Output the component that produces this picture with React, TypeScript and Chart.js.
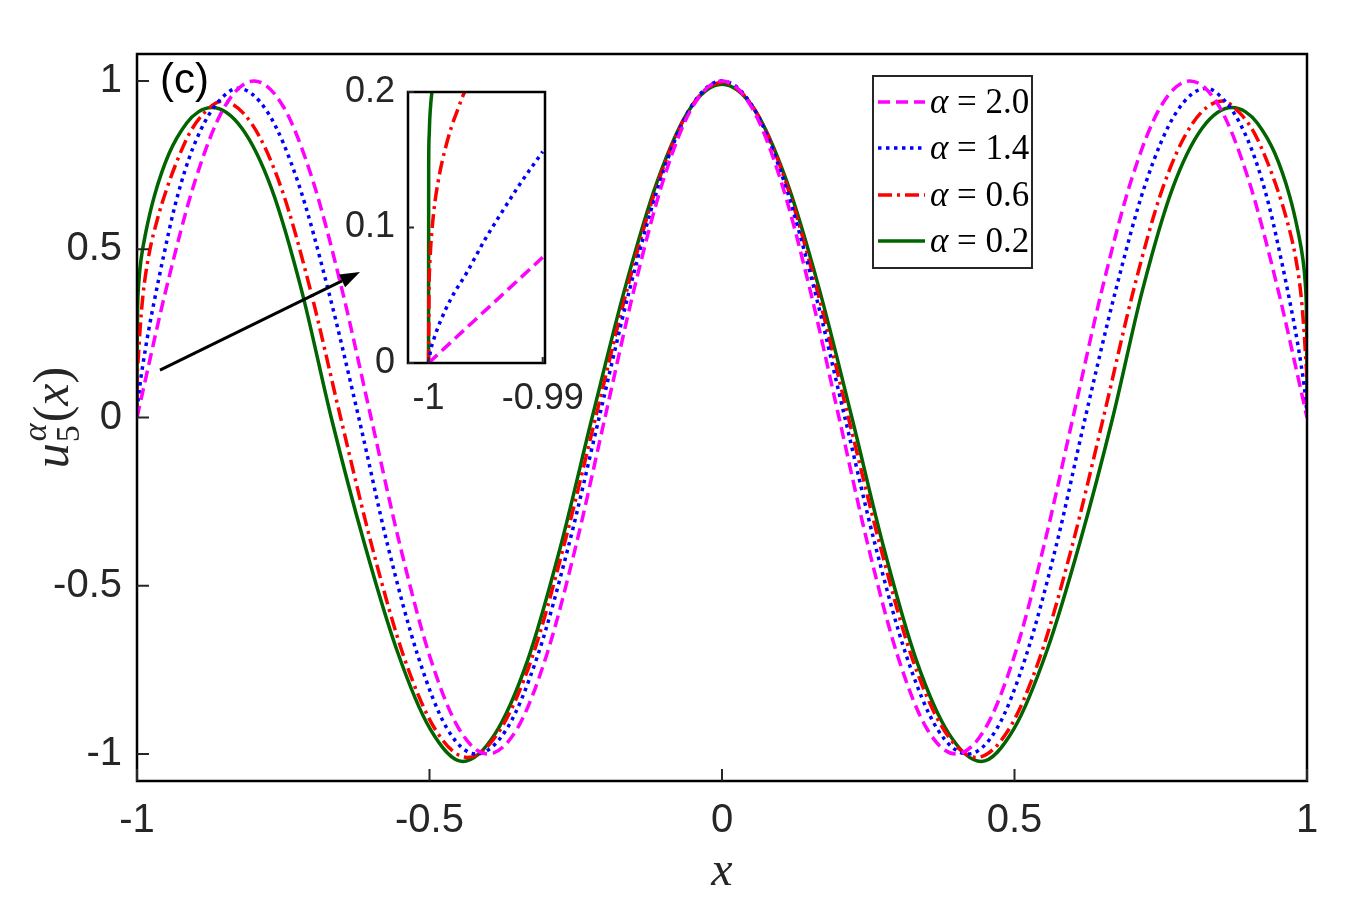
import React, { useEffect, useRef } from 'react';
import { Chart, registerables } from 'chart.js';

Chart.register(...registerables);

// ---------------- data ----------------
const xTicks = [-1, -0.5, 0, 0.5, 1];
const yTicks = [-1, -0.5, 0, 0.5, 1];
const insetXTicks = [-1, -0.99];
const insetYTicks = [0, 0.1, 0.2];
const alphaLabels = ['2.0', '1.4', '0.6', '0.2'];

const magentaX = [-1, -0.99, -0.95, -0.9, -0.85, -0.8, -0.75, -0.7, -0.65, -0.6, -0.55, -0.5, -0.45, -0.4, -0.35, -0.3, -0.25, -0.2, -0.15, -0.1, -0.05, 0,
  0.05, 0.1, 0.15, 0.2, 0.25, 0.3, 0.35, 0.4, 0.45, 0.5, 0.55, 0.6, 0.65, 0.7, 0.75, 0.8, 0.85, 0.9, 0.95, 0.99, 1];
const magentaY = [0, 0.078, 0.383, 0.707, 0.924, 1.0, 0.924, 0.707, 0.383, 0, -0.383, -0.707, -0.924, -1.0, -0.924, -0.707, -0.383, 0, 0.383, 0.707, 0.924, 1.0,
  0.924, 0.707, 0.383, 0, -0.383, -0.707, -0.924, -1.0, -0.924, -0.707, -0.383, 0, 0.383, 0.707, 0.924, 1.0, 0.924, 0.707, 0.383, 0.078, 0];

const blueX = [-1, -0.9996, -0.995, -0.99, -0.98, -0.97, -0.957, -0.935, -0.911, -0.885, -0.86, -0.828, -0.776, -0.724, -0.673, -0.621, -0.571, -0.52, -0.47, -0.42, -0.3675, -0.315, -0.2625, -0.21, -0.1575, -0.105, -0.0525, 0,
  0.0525, 0.105, 0.1575, 0.21, 0.2625, 0.315, 0.3675, 0.42, 0.47, 0.52, 0.571, 0.621, 0.673, 0.724, 0.776, 0.828, 0.86, 0.885, 0.911, 0.935, 0.957, 0.97, 0.98, 0.99, 0.995, 0.9996, 1];
const blueY = [0, 0.015, 0.096, 0.156, 0.26, 0.35, 0.46, 0.63, 0.77, 0.875, 0.94, 0.978, 0.905, 0.695, 0.378, 0, -0.383, -0.707, -0.924, -1.0, -0.924, -0.707, -0.383, 0, 0.383, 0.707, 0.924, 1.0,
  0.924, 0.707, 0.383, 0, -0.383, -0.707, -0.924, -1.0, -0.924, -0.707, -0.383, 0, 0.378, 0.695, 0.905, 0.978, 0.94, 0.875, 0.77, 0.63, 0.46, 0.35, 0.26, 0.156, 0.096, 0.015, 0];

const redX = [-1, -0.9997, -0.9988, -0.997, -0.995, -0.99, -0.98, -0.965, -0.95, -0.932, -0.91, -0.885, -0.855, -0.804, -0.753, -0.703, -0.652, -0.598, -0.543, -0.489, -0.435, -0.38, -0.325, -0.271, -0.216, -0.162, -0.108, -0.054, 0,
  0.054, 0.108, 0.162, 0.216, 0.271, 0.325, 0.38, 0.435, 0.489, 0.543, 0.598, 0.652, 0.703, 0.753, 0.804, 0.855, 0.885, 0.91, 0.932, 0.95, 0.965, 0.98, 0.99, 0.995, 0.997, 0.9988, 0.9997, 1];
const redY = [0, 0.1, 0.15, 0.2, 0.255, 0.36, 0.48, 0.59, 0.675, 0.76, 0.845, 0.905, 0.94, 0.873, 0.68, 0.375, 0, -0.385, -0.715, -0.93, -1.01, -0.93, -0.715, -0.386, 0, 0.382, 0.705, 0.92, 0.995,
  0.92, 0.705, 0.382, 0, -0.386, -0.715, -0.93, -1.01, -0.93, -0.715, -0.385, 0, 0.375, 0.68, 0.873, 0.94, 0.905, 0.845, 0.76, 0.675, 0.59, 0.48, 0.36, 0.255, 0.2, 0.15, 0.1, 0];

const greenX = [-1, -0.9999, -0.9997, -0.999, -0.997, -0.993, -0.985, -0.97, -0.945, -0.915, -0.895, -0.872, -0.821, -0.77, -0.719, -0.668, -0.612, -0.556, -0.499, -0.443, -0.388, -0.332, -0.277, -0.222, -0.1665, -0.111, -0.0555, 0,
  0.0555, 0.111, 0.1665, 0.222, 0.277, 0.332, 0.388, 0.443, 0.499, 0.556, 0.612, 0.668, 0.719, 0.77, 0.821, 0.872, 0.895, 0.915, 0.945, 0.97, 0.985, 0.993, 0.997, 0.999, 0.9997, 0.9999, 1];
const greenY = [0, 0.15, 0.22, 0.32, 0.4, 0.47, 0.55, 0.66, 0.785, 0.875, 0.908, 0.921, 0.86, 0.68, 0.38, 0, -0.37, -0.69, -0.925, -1.022, -0.94, -0.72, -0.39, 0, 0.38, 0.7, 0.915, 0.99,
  0.915, 0.7, 0.38, 0, -0.39, -0.72, -0.94, -1.022, -0.925, -0.69, -0.37, 0, 0.38, 0.68, 0.86, 0.921, 0.908, 0.875, 0.785, 0.66, 0.55, 0.47, 0.4, 0.32, 0.22, 0.15, 0];

// inset (zoom near x = -1)
const insetMagentaX = [-1, -0.995, -0.99];
const insetMagentaY = [0, 0.039, 0.078];
const insetBlueX = [-1, -0.9998, -0.9996, -0.999, -0.998, -0.9967, -0.995, -0.9939, -0.992, -0.99];
const insetBlueY = [0, 0.01, 0.016, 0.03, 0.048, 0.066, 0.092, 0.107, 0.132, 0.156];
const insetRedX = [-1, -0.99995, -0.9999, -0.9998, -0.99966, -0.9995, -0.9992, -0.9988, -0.998, -0.9974, -0.997, -0.996];
const insetRedY = [0, 0.057, 0.071, 0.087, 0.102, 0.115, 0.132, 0.149, 0.174, 0.188, 0.197, 0.215];
const insetGreenX = [-1, -0.99999, -0.99995, -0.9999, -0.9998, -0.9997, -0.9996];
const insetGreenY = [0, 0.142, 0.167, 0.179, 0.192, 0.2, 0.206];

// arrow annotation (data coordinates, main axes)
const arrowFrom = [-0.9607, 0.141];
const arrowTo = [-0.6188, 0.432];

// ---------------- styles ----------------
const seriesStyles = [
  { color: '#ff00ff', dash: [12, 6] },
  { color: '#0000ff', dash: [3.5, 4.5] },
  { color: '#ff0000', dash: [14, 5, 3, 5] },
  { color: '#006400', dash: [] as number[] },
];
const LINE_W = 3.5;

const W = 1361;
const H = 908;
const AREA = { left: 137, right: 1307, top: 54, bottom: 781 };
const INSET_BOX = { left: 300, top: 30, width: 300, height: 400 };
const INSET_AREA = { left: 408, right: 545, top: 92, bottom: 363 };
const TICK_FONT = '"Liberation Sans", Arial, sans-serif';
const SERIF = '"Liberation Serif", "Times New Roman", serif';
const AXIS_COLOR = '#262626';

const pts = (xs: number[], ys: number[]) => xs.map((x, i) => ({ x, y: ys[i] }));
const fmt = (v: number) => String(Math.round(v * 1000) / 1000);

function makeDatasets(sets: [number[], number[]][]) {
  return sets.map(([xs, ys], i) => ({
    label: 'α = ' + alphaLabels[i],
    data: pts(xs, ys),
    borderColor: seriesStyles[i].color,
    backgroundColor: seriesStyles[i].color,
    borderWidth: LINE_W,
    borderDash: seriesStyles[i].dash,
    borderCapStyle: 'butt' as const,
    pointRadius: 0,
    fill: false,
    cubicInterpolationMode: 'monotone' as const,
  }));
}

const mainDecor = {
  id: 'mainDecor',
  afterDraw(chart: any) {
    const { ctx, chartArea: a, scales } = chart;
    const sx = scales.x;
    const sy = scales.y;
    ctx.save();
    // frame
    ctx.strokeStyle = '#000';
    ctx.lineWidth = 2.5;
    ctx.setLineDash([]);
    ctx.strokeRect(a.left, a.top, a.right - a.left, a.bottom - a.top);
    // inward ticks
    ctx.lineWidth = 2;
    ctx.strokeStyle = AXIS_COLOR;
    ctx.beginPath();
    for (const v of xTicks) {
      const p = sx.getPixelForValue(v);
      ctx.moveTo(p, a.bottom);
      ctx.lineTo(p, a.bottom - 12);
    }
    for (const v of yTicks) {
      const p = sy.getPixelForValue(v);
      ctx.moveTo(a.left, p);
      ctx.lineTo(a.left + 12, p);
    }
    ctx.stroke();

    // arrow
    const x0 = sx.getPixelForValue(arrowFrom[0]);
    const y0 = sy.getPixelForValue(arrowFrom[1]);
    const x1 = sx.getPixelForValue(arrowTo[0]);
    const y1 = sy.getPixelForValue(arrowTo[1]);
    const ang = Math.atan2(y1 - y0, x1 - x0);
    const hl = 20, hw = 7;
    const bx = x1 - hl * Math.cos(ang);
    const by = y1 - hl * Math.sin(ang);
    ctx.strokeStyle = '#000';
    ctx.fillStyle = '#000';
    ctx.lineWidth = 3;
    ctx.beginPath();
    ctx.moveTo(x0, y0);
    ctx.lineTo(bx, by);
    ctx.stroke();
    ctx.beginPath();
    ctx.moveTo(x1, y1);
    ctx.lineTo(bx + hw * Math.sin(ang), by - hw * Math.cos(ang));
    ctx.lineTo(bx - hw * Math.sin(ang), by + hw * Math.cos(ang));
    ctx.closePath();
    ctx.fill();

    // panel label
    ctx.fillStyle = '#000';
    ctx.font = `42px ${TICK_FONT}`;
    ctx.textAlign = 'left';
    ctx.textBaseline = 'alphabetic';
    ctx.fillText('(c)', 160, 93);

    // legend
    const L = { left: 873, top: 76, right: 1032, bottom: 268 };
    ctx.fillStyle = '#fff';
    ctx.fillRect(L.left, L.top, L.right - L.left, L.bottom - L.top);
    ctx.strokeStyle = '#262626';
    ctx.lineWidth = 2;
    ctx.strokeRect(L.left, L.top, L.right - L.left, L.bottom - L.top);
    const rows = [102, 148, 195, 241];
    chart.data.datasets.forEach((ds: any, i: number) => {
      const ry = rows[i];
      ctx.strokeStyle = ds.borderColor;
      ctx.lineWidth = LINE_W;
      ctx.setLineDash(ds.borderDash);
      ctx.beginPath();
      ctx.moveTo(878, ry);
      ctx.lineTo(925, ry);
      ctx.stroke();
      ctx.setLineDash([]);
      ctx.fillStyle = '#000';
      ctx.font = `italic 35px ${SERIF}`;
      ctx.fillText('α', 930, ry + 11);
      const wa = ctx.measureText('α').width;
      ctx.font = `35px ${SERIF}`;
      ctx.fillText(' = ' + alphaLabels[i], 930 + wa, ry + 11);
    });

    // x title
    ctx.fillStyle = AXIS_COLOR;
    ctx.font = `italic 48px ${SERIF}`;
    ctx.textAlign = 'center';
    ctx.fillText('x', (a.left + a.right) / 2, 885);

    // y title: u_5^alpha(x), rotated
    ctx.translate(68, (a.top + a.bottom) / 2);
    ctx.rotate(-Math.PI / 2);
    ctx.textAlign = 'left';
    const fU = `italic 50px ${SERIF}`;
    const fUp = `50px ${SERIF}`;
    const fSI = `italic 34px ${SERIF}`;
    const fS = `34px ${SERIF}`;
    ctx.font = fU;
    const wu = ctx.measureText('u').width;
    const wx = ctx.measureText('x').width;
    ctx.font = fSI;
    const wal = ctx.measureText('α').width;
    ctx.font = fS;
    const w5 = ctx.measureText('5').width;
    ctx.font = fUp;
    const wl = ctx.measureText('(').width;
    const wr = ctx.measureText(')').width;
    const ws = Math.max(wal, w5) + 3;
    let t = -(wu + ws + wl + wx + wr) / 2;
    ctx.font = fU;
    ctx.fillText('u', t, 0);
    t += wu;
    ctx.font = fSI;
    ctx.fillText('α', t + 2, -22);
    ctx.font = fS;
    ctx.fillText('5', t + 1, 11);
    t += ws;
    ctx.font = fUp;
    ctx.fillText('(', t, 0);
    t += wl;
    ctx.font = fU;
    ctx.fillText('x', t, 0);
    t += wx;
    ctx.font = fUp;
    ctx.fillText(')', t, 0);
    ctx.restore();
  },
};

const insetDecor = {
  id: 'insetDecor',
  beforeDatasetsDraw(chart: any) {
    const { ctx, chartArea: a } = chart;
    ctx.save();
    ctx.fillStyle = '#fff';
    ctx.fillRect(a.left, a.top, a.right - a.left, a.bottom - a.top);
    ctx.restore();
  },
  afterDraw(chart: any) {
    const { ctx, chartArea: a, scales } = chart;
    ctx.save();
    ctx.setLineDash([]);
    ctx.strokeStyle = '#000';
    ctx.lineWidth = 2.5;
    ctx.strokeRect(a.left, a.top, a.right - a.left, a.bottom - a.top);
    ctx.lineWidth = 2;
    ctx.strokeStyle = AXIS_COLOR;
    ctx.beginPath();
    for (const v of insetXTicks) {
      const p = scales.x.getPixelForValue(v);
      ctx.moveTo(p, a.bottom);
      ctx.lineTo(p, a.bottom - 6);
    }
    for (const v of insetYTicks) {
      const p = scales.y.getPixelForValue(v);
      ctx.moveTo(a.left, p);
      ctx.lineTo(a.left + 6, p);
    }
    ctx.stroke();
    ctx.restore();
  },
};

export default function App() {
  const mainRef = useRef<HTMLCanvasElement>(null);
  const insetRef = useRef<HTMLCanvasElement>(null);

  useEffect(() => {
    const main = new Chart(mainRef.current as HTMLCanvasElement, {
      type: 'line',
      data: {
        datasets: makeDatasets([
          [magentaX, magentaY],
          [blueX, blueY],
          [redX, redY],
          [greenX, greenY],
        ]) as any,
      },
      options: {
        animation: false,
        responsive: false,
        maintainAspectRatio: false,
        devicePixelRatio: 1,
        layout: { padding: { left: 0, top: AREA.top, right: W - AREA.right, bottom: 0 } },
        plugins: { legend: { display: false }, tooltip: { enabled: false }, title: { display: false } },
        scales: {
          x: {
            type: 'linear',
            min: -1,
            max: 1,
            afterFit: (s: any) => { s.height = H - AREA.bottom; },
            afterBuildTicks: (s: any) => { s.ticks = xTicks.map((v) => ({ value: v })); },
            grid: { display: false, drawTicks: false },
            border: { display: false },
            ticks: {
              autoSkip: false,
              maxRotation: 0,
              padding: 16,
              color: AXIS_COLOR,
              font: { family: TICK_FONT, size: 40 },
              callback: (v: any) => fmt(Number(v)),
            },
          },
          y: {
            type: 'linear',
            min: -1.08,
            max: 1.08,
            afterFit: (s: any) => { s.width = AREA.left; },
            afterBuildTicks: (s: any) => { s.ticks = yTicks.map((v) => ({ value: v })); },
            grid: { display: false, drawTicks: false },
            border: { display: false },
            ticks: {
              autoSkip: false,
              padding: 15,
              color: AXIS_COLOR,
              font: { family: TICK_FONT, size: 40 },
              callback: (v: any) => fmt(Number(v)),
            },
          },
        },
      },
      plugins: [mainDecor],
    });

    const inset = new Chart(insetRef.current as HTMLCanvasElement, {
      type: 'line',
      data: {
        datasets: makeDatasets([
          [insetMagentaX, insetMagentaY],
          [insetBlueX, insetBlueY],
          [insetRedX, insetRedY],
          [insetGreenX, insetGreenY],
        ]) as any,
      },
      options: {
        animation: false,
        responsive: false,
        maintainAspectRatio: false,
        devicePixelRatio: 1,
        layout: {
          padding: {
            left: 0,
            top: INSET_AREA.top - INSET_BOX.top,
            right: INSET_BOX.left + INSET_BOX.width - INSET_AREA.right,
            bottom: 0,
          },
        },
        plugins: { legend: { display: false }, tooltip: { enabled: false } },
        scales: {
          x: {
            type: 'linear',
            min: -1.0018,
            max: -0.9898,
            afterFit: (s: any) => { s.height = INSET_BOX.top + INSET_BOX.height - INSET_AREA.bottom; },
            afterBuildTicks: (s: any) => { s.ticks = insetXTicks.map((v) => ({ value: v })); },
            grid: { display: false, drawTicks: false },
            border: { display: false },
            ticks: {
              autoSkip: false,
              maxRotation: 0,
              padding: 14,
              color: AXIS_COLOR,
              font: { family: TICK_FONT, size: 36 },
              callback: (v: any) => fmt(Number(v)),
            },
          },
          y: {
            type: 'linear',
            min: 0,
            max: 0.2,
            afterFit: (s: any) => { s.width = INSET_AREA.left - INSET_BOX.left; },
            afterBuildTicks: (s: any) => { s.ticks = insetYTicks.map((v) => ({ value: v })); },
            grid: { display: false, drawTicks: false },
            border: { display: false },
            ticks: {
              autoSkip: false,
              padding: 13,
              color: AXIS_COLOR,
              font: { family: TICK_FONT, size: 36 },
              callback: (v: any) => fmt(Number(v)),
            },
          },
        },
      },
      plugins: [insetDecor],
    });

    return () => {
      main.destroy();
      inset.destroy();
    };
  }, []);

  return (
    <div style={{ position: 'absolute', left: 0, top: 0, width: W, height: H, background: '#fff' }}>
      <canvas
        ref={mainRef}
        width={W}
        height={H}
        style={{ position: 'absolute', left: 0, top: 0, width: W, height: H }}
      />
      <canvas
        ref={insetRef}
        width={INSET_BOX.width}
        height={INSET_BOX.height}
        style={{
          position: 'absolute',
          left: INSET_BOX.left,
          top: INSET_BOX.top,
          width: INSET_BOX.width,
          height: INSET_BOX.height,
        }}
      />
    </div>
  );
}
